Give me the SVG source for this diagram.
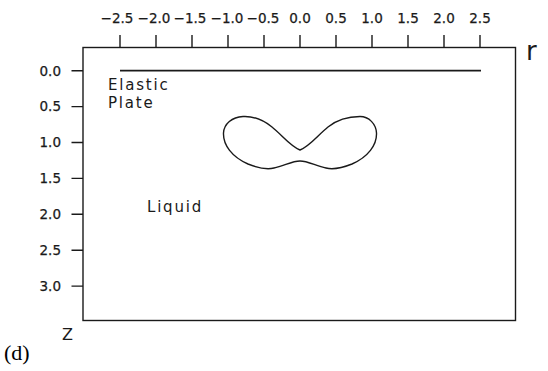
<svg xmlns="http://www.w3.org/2000/svg" width="548" height="371" viewBox="0 0 548 371">
<style>
.ax{stroke:#1a1a1a;stroke-width:1.4;fill:none}
.tk{font-family:"DejaVu Sans",sans-serif;font-size:13.5px;fill:#1a1a1a;stroke:#1a1a1a;stroke-width:0.25}
.lb{font-family:"DejaVu Sans",sans-serif;font-size:15px;letter-spacing:1.8px;fill:#1a1a1a}
</style>
<rect width="548" height="371" fill="#fff"/>
<g id="frame">
<rect class="ax" x="83" y="47.5" width="432.5" height="273"/>
<path class="ax" d="M120,35V47.5M156,35V47.5M192,35V47.5M228,35V47.5M264,35V47.5M300,35V47.5M336,35V47.5M372,35V47.5M408,35V47.5M444,35V47.5M480,35V47.5"/>
<path class="ax" d="M71.5,70.7H83M71.5,106.6H83M71.5,142.5H83M71.5,178.4H83M71.5,214.3H83M71.5,250.2H83M71.5,286.1H83"/>
</g>
<g id="top-labels" class="tk" text-anchor="middle">
<text x="117" y="23">−2.5</text>
<text x="154" y="23">−2.0</text>
<text x="190" y="23">−1.5</text>
<text x="227" y="23">−1.0</text>
<text x="263" y="23">−0.5</text>
<text x="300" y="23">0.0</text>
<text x="336" y="23">0.5</text>
<text x="372" y="23">1.0</text>
<text x="408" y="23">1.5</text>
<text x="444" y="23">2.0</text>
<text x="480" y="23">2.5</text>
</g>
<g id="left-labels" class="tk" text-anchor="end">
<text x="61" y="75.5">0.0</text>
<text x="61" y="111.4">0.5</text>
<text x="61" y="147.3">1.0</text>
<text x="61" y="183.2">1.5</text>
<text x="61" y="219.1">2.0</text>
<text x="61" y="255">2.5</text>
<text x="61" y="290.9">3.0</text>
</g>
<g id="axis-names">
<text x="526" y="60" font-family="DejaVu Sans,sans-serif" font-size="26" fill="#1a1a1a">r</text>
<text x="62" y="339.5" font-family="DejaVu Sans,sans-serif" font-size="16" fill="#1a1a1a">Z</text>
<text x="4" y="360" font-family="Liberation Serif,serif" font-size="22" fill="#000">(d)</text>
</g>
<g id="plate">
<line x1="120" y1="70.7" x2="481" y2="70.7" stroke="#1a1a1a" stroke-width="1.8"/>
<text class="lb" x="108" y="89.5">Elastic</text>
<text class="lb" x="108" y="107.5">Plate</text>
</g>
<g id="liquid">
<text class="lb" x="147" y="212">Liquid</text>
</g>
<g id="bubble">
<path class="ax" stroke-width="1.6" d="M300,150 C290,146 282,135 272,127 C262,119 252,116 243,116.5 C232,117 224,124 223.5,133 C223,145 232,157 248,164 C258,168 266,170 274,168 C284,166 292,161 300,161 C308,161 316,166 326,168 C334,170 342,168 352,164 C368,157 377,145 376.5,133 C376,124 369,116.5 360,116.5 C350,116.5 338,119 328,127 C318,135 310,146 300,150 Z"/>
</g>
</svg>
